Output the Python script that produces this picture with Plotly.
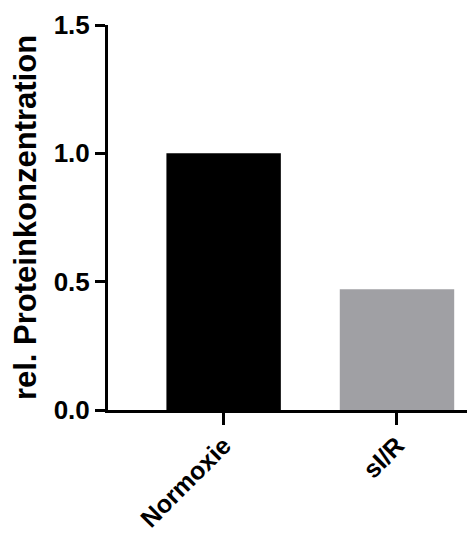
import plotly.graph_objects as go

categories = ["Normoxie", "sI/R"]
values = [1.0, 0.47]
bar_colors = ["#000000", "#a0a0a4"]
y_ticks = [0.0, 0.5, 1.0, 1.5]
y_tick_labels = ["0.0", "0.5", "1.0", "1.5"]

FONT = "Liberation Sans, Arial, Helvetica, sans-serif"

fig = go.Figure(
    go.Bar(
        x=[0, 1],
        y=values,
        marker=dict(color=bar_colors, line=dict(width=0)),
        width=0.66,
    )
)

# the page adds an 8px body margin, so the figure is sized/offset to compensate
fig.update_layout(
    width=467,
    height=531,
    margin=dict(l=100, r=0, t=17, b=129, autoexpand=False),
    plot_bgcolor="white",
    paper_bgcolor="white",
    showlegend=False,
    font=dict(family=FONT, color="black", size=24, weight="bold"),
)

fig.update_xaxes(
    range=[-0.667, 1.45],
    tickmode="array",
    tickvals=[0, 1],
    ticktext=categories,
    tickangle=-45,
    ticks="outside",
    ticklen=12,
    tickwidth=3,
    tickcolor="black",
    ticklabelstandoff=-4,
    showline=True,
    linewidth=3,
    linecolor="black",
    showgrid=False,
    zeroline=False,
    automargin=False,
    tickfont=dict(family=FONT, size=25, color="black", weight="bold"),
)

fig.update_yaxes(
    range=[0, 1.5],
    tickmode="array",
    tickvals=y_ticks,
    ticktext=y_tick_labels,
    ticks="outside",
    ticklen=10,
    tickwidth=3,
    tickcolor="black",
    showline=True,
    linewidth=3,
    linecolor="black",
    showgrid=False,
    zeroline=False,
    automargin=False,
    tickfont=dict(family=FONT, size=26, color="black", weight="bold"),
    title=dict(
        text="rel. Proteinkonzentration",
        font=dict(family=FONT, size=31, color="black", weight="bold"),
        standoff=10,
    ),
)

fig.write_html("out.html")
